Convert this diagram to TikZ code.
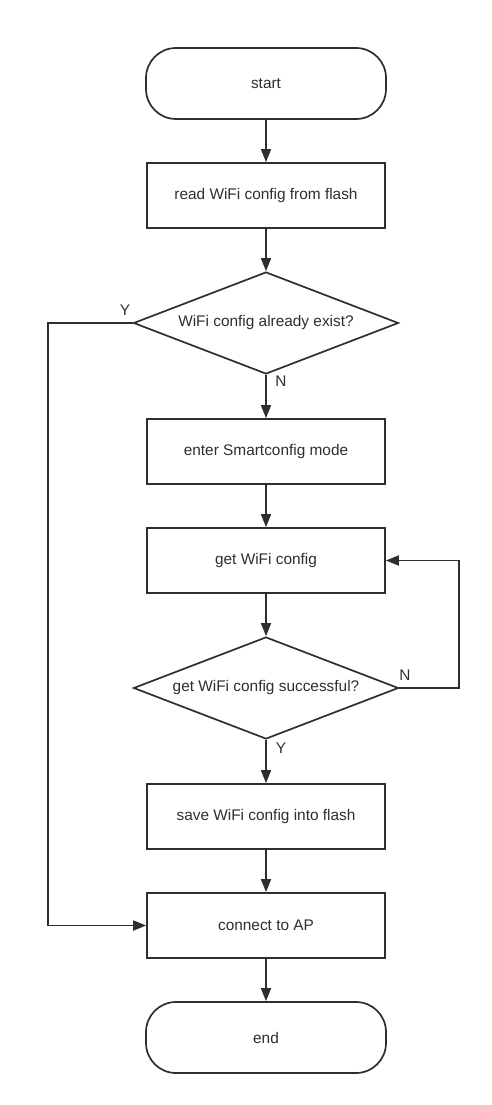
\documentclass[tikz,border=0pt]{standalone}
\usepackage{fontspec}
\setmainfont{Liberation Sans}
\usetikzlibrary{shapes.geometric,arrows.meta}
\definecolor{ink}{HTML}{2E2E2E}
\tikzstyle{process} = [draw=ink, line width=1.7pt, minimum width=238pt, minimum height=65pt, inner sep=0pt]
\tikzstyle{terminal} = [draw=ink, line width=1.7pt, rounded corners=30pt, minimum width=240pt, minimum height=71pt, inner sep=0pt]
\tikzstyle{decision} = [draw=ink, line width=1.7pt, diamond, aspect=2.6, inner sep=0pt, minimum width=265pt, minimum height=102pt]
\tikzstyle{flow} = [draw=ink, line width=1.7pt, -{Triangle[length=13pt,width=10pt]}]
\tikzstyle{answer} = [text=ink, inner sep=0pt]

\begin{document}
\begin{tikzpicture}[x=1pt, y=-1pt, font=\fontsize{15.4}{18}\selectfont, text=ink]
			\useasboundingbox (0,0) rectangle (491,1105);
			\node[terminal] (start) at (266, 83.5) {start};
			\node[process] (read) at (266, 195.5) {read WiFi config from flash};
			\node[decision] (exist) at (266, 323) {WiFi config already exist?};
			\node[process] (smart) at (266, 451.5) {enter Smartconfig mode};
			\node[process] (get) at (266, 560.5) {get WiFi config};
			\node[decision] (success) at (266, 688) {get WiFi config successful?};
			\node[process] (save) at (266, 816.5) {save WiFi config into flash};
			\node[process] (connect) at (266, 925.5) {connect to AP};
			\node[terminal] (end) at (266, 1037.5) {end};
			\coordinate (yturn) at (48, 323);
			\coordinate (nturn) at (459, 688);
			\node[answer] (ylabel) at (125, 310) {Y};
			\node[answer] (nlabel) at (281, 381) {N};
			\node[answer] (nloop) at (405, 675) {N};
			\node[answer] (ylast) at (281, 748) {Y};
			\draw[flow] (start) -- (read);
			\draw[flow] (read) -- (exist);
			\draw[flow] (exist) -- (smart);
			\draw[flow] (smart) -- (get);
			\draw[flow] (get) -- (success);
			\draw[flow] (success) -- (save);
			\draw[flow] (save) -- (connect);
			\draw[flow] (connect) -- (end);
			\draw[flow] (exist.west) -- (yturn) |- (connect.west);
			\draw[flow] (success.east) -- (nturn) |- (get.east);
		\end{tikzpicture}
\end{document}
